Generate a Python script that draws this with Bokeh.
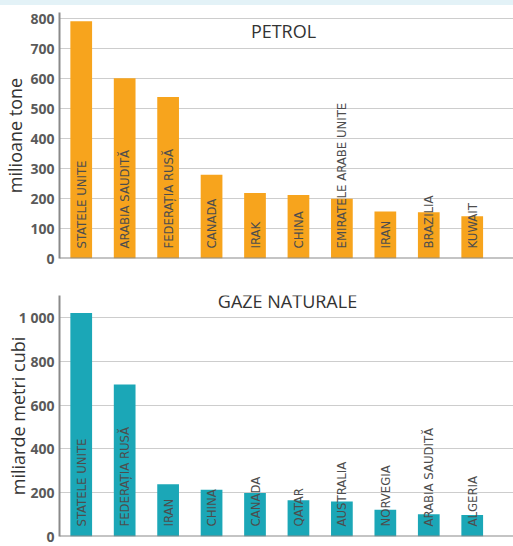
import numpy as np
from math import pi
from bokeh.plotting import figure
from bokeh.layouts import column
from bokeh.models import Range1d, FixedTicker, Span, Label, ColumnDataSource
from bokeh.core.properties import value
from bokeh.embed import file_html
from bokeh.resources import INLINE

# ---- data ----
petrol_countries = ["STATELE UNITE", "ARABIA SAUDITĂ", "FEDERAȚIA RUSĂ", "CANADA", "IRAK",
                    "CHINA", "EMIRATELE ARABE UNITE", "IRAN", "BRAZILIA", "KUWAIT"]
petrol_values = [791, 601, 538, 279, 218, 212, 199, 157, 154, 141]
petrol_ticks = [0, 100, 200, 300, 400, 500, 600, 700, 800]

gaze_countries = ["STATELE UNITE", "FEDERAȚIA RUSĂ", "IRAN", "CHINA", "CANADA",
                  "QATAR", "AUSTRALIA", "NORVEGIA", "ARABIA SAUDITĂ", "ALGERIA"]
gaze_values = [1020, 694, 239, 213, 198, 166, 160, 122, 102, 98]
gaze_ticks = [0, 200, 400, 600, 800, 1000]
gaze_tick_labels = {1000: "1 000"}

ORANGE = "#f7a41d"
TEAL = "#1ba7b7"
BG = "#e3f2f7"


def make_chart(countries, values, ticks, ymax, color, title, ylabel, height,
               border_top, border_bottom, label_standoff, overrides=None, title_xy=(224, 228)):
    src = ColumnDataSource(dict(x=list(range(len(countries))), top=values, name=countries))
    p = figure(width=513, height=height, output_backend="svg", toolbar_location=None,
               x_range=Range1d(-0.5, len(countries) - 0.05), y_range=Range1d(0, ymax),
               min_border_left=58, min_border_right=0, min_border_top=border_top,
               min_border_bottom=border_bottom)
    p.outline_line_color = None
    p.background_fill_color = "white"
    p.border_fill_color = "white"
    p.vbar(x="x", top="top", width=0.5, bottom=0, source=src, color=color, line_color=None)
    p.text(x="x", y=0, text="name", source=src, angle=pi / 2, text_align="left",
           text_baseline="middle", y_offset=-10, text_font=value("DejaVu Sans Condensed"),
           text_font_size="13px", text_color="#4d4d4d")
    p.xaxis.visible = False
    p.xgrid.grid_line_color = None
    p.ygrid.grid_line_color = "#9a9a9a"
    p.ygrid.grid_line_dash = "1 1"
    p.ygrid.grid_line_width = 1
    yax = p.yaxis[0]
    yax.ticker = FixedTicker(ticks=ticks)
    if overrides:
        yax.major_label_overrides = overrides
    yax.axis_line_color = "#8a8a8a"
    yax.axis_line_width = 2
    yax.major_tick_line_color = None
    yax.major_tick_out = 0
    yax.major_tick_in = 0
    yax.minor_tick_line_color = None
    yax.minor_tick_out = 0
    yax.major_label_standoff = 5
    yax.major_label_text_font = "Open Sans"
    yax.major_label_text_font_size = "14px"
    yax.major_label_text_font_style = "bold"
    yax.major_label_text_color = "#5a5a5a"
    yax.axis_label = ylabel
    yax.axis_label_text_font = "Open Sans"
    yax.axis_label_text_font_size = "18px"
    yax.axis_label_text_font_style = "normal"
    yax.axis_label_text_color = "#333333"
    yax.axis_label_standoff = label_standoff
    p.add_layout(Span(location=0, dimension="width", line_color="#8a8a8a", line_width=2))
    p.add_layout(Label(x=title_xy[0], y=title_xy[1], x_units="screen", y_units="screen",
                       text=title, text_align="center", text_baseline="middle",
                       text_font="Open Sans", text_font_size="18px", text_color="#333333"))
    return p


p1 = make_chart(petrol_countries, petrol_values, petrol_ticks, 820, ORANGE, "PETROL",
                "milioane tone", 268, 7, 15, 0, title_xy=(224, 228))
p2 = make_chart(gaze_countries, gaze_values, gaze_ticks, 1100, TEAL, "GAZE NATURALE",
                "miliarde metri cubi", 273, 22, 10, -14, overrides=gaze_tick_labels,
                title_xy=(228, 236))

p = column(p1, p2, spacing=0, margin=(5, 0, 0, 0), styles={"background-color": "white"})
html = file_html(p, INLINE)
html = html.replace("</head>", "<style>html, body { background: %s; }</style></head>" % BG, 1)
open("out.html", "w").write(html)
